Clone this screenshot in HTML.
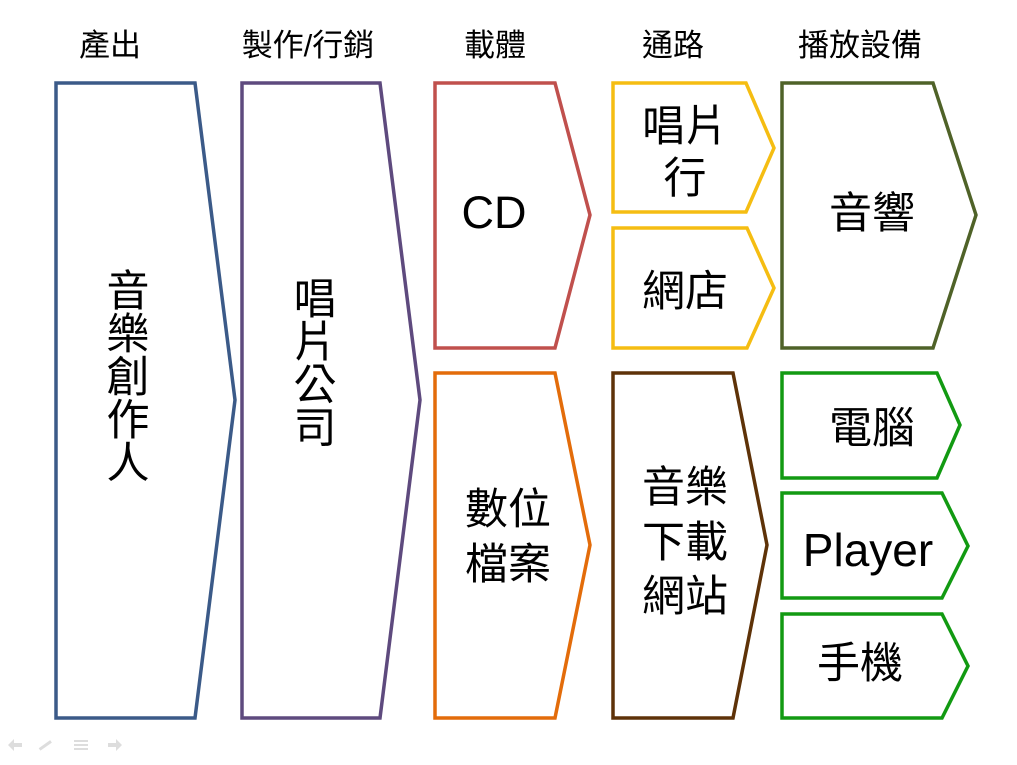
<!DOCTYPE html>
<html><head><meta charset="utf-8"><style>
html,body{margin:0;padding:0;background:#fff;}
svg{display:block;}
text{font-family:"Liberation Sans","Noto Sans CJK TC",sans-serif;fill:#000;}
</style></head><body>
<svg width="1017" height="765" viewBox="0 0 1017 765" xmlns="http://www.w3.org/2000/svg">
<g fill="#fff" stroke-width="3.5" stroke-linejoin="miter">
<polygon points="56,83 195,83 235,400 195,718 56,718" stroke="#3b5a88"/>
<polygon points="242,83 380,83 420,400 380,718 242,718" stroke="#5e4a7e"/>
<polygon points="435,83 555,83 590,215 555,348 435,348" stroke="#c0504d"/>
<polygon points="435,373 555,373 590,545 555,718 435,718" stroke="#e36c0a"/>
<polygon points="613,83 746,83 774,148 746,212 613,212" stroke="#f5bd12"/>
<polygon points="613,228 747,228 774,288 747,348 613,348" stroke="#f5bd12"/>
<polygon points="613,373 733,373 767,545 733,718 613,718" stroke="#5e3208"/>
<polygon points="782,83 933,83 976,215 933,348 782,348" stroke="#4f6228"/>
<polygon points="782,373 937,373 960,425 937,478 782,478" stroke="#129a12"/>
<polygon points="782,493 942,493 968,546 942,598 782,598" stroke="#129a12"/>
<polygon points="782,614 942,614 968,666 942,718 782,718" stroke="#129a12"/>
</g>
<g font-size="31" text-anchor="middle">
<text x="110" y="56">產出</text>
<text x="308" y="56">製作/行銷</text>
<text x="495" y="56">載體</text>
<text x="673" y="56">通路</text>
<text x="860" y="56">播放設備</text>
</g>
<g font-size="43" text-anchor="middle">
<text x="128" y="306">音</text>
<text x="128" y="349">樂</text>
<text x="128" y="392">創</text>
<text x="128" y="435">作</text>
<text x="128" y="478">人</text>
<text x="315" y="314">唱</text>
<text x="315" y="357">片</text>
<text x="315" y="400">公</text>
<text x="315" y="443">司</text>
<text x="494" y="228" font-size="45">CD</text>
<text x="508" y="524">數位</text>
<text x="508" y="579">檔案</text>
<text x="685" y="141">唱片</text>
<text x="685" y="193">行</text>
<text x="685" y="306">網店</text>
<text x="685" y="502">音樂</text>
<text x="685" y="557">下載</text>
<text x="685" y="611">網站</text>
<text x="872" y="228">音響</text>
<text x="872" y="443">電腦</text>
<text x="868" y="566" font-size="46">Player</text>
<text x="860" y="678">手機</text>
</g>
<g fill="#ddd">
<polygon points="8,745 14,739 14,743 22,743 22,747 14,747 14,751"/>
<rect x="38" y="744" width="14" height="3" transform="rotate(-35 45 745)"/>
<rect x="74" y="740" width="14" height="2"/><rect x="74" y="744" width="14" height="2"/><rect x="74" y="748" width="14" height="2"/>
<polygon points="122,745 116,739 116,743 108,743 108,747 116,747 116,751"/>
</g>
</svg>
</body></html>
